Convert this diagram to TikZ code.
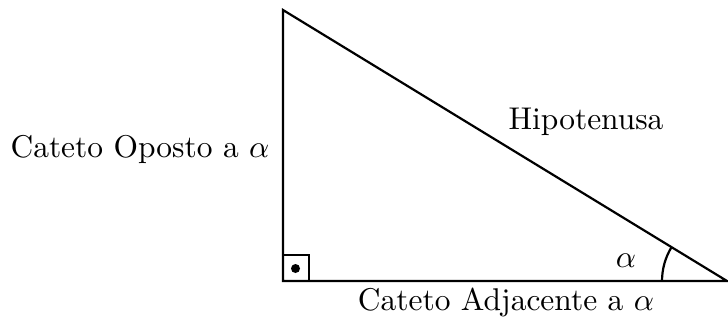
\documentclass[tikz,border=0pt]{standalone}
\begin{document}
\begin{tikzpicture}[x=0.318pt,y=-0.318pt,line width=0.7pt,
  lbl/.style={inner sep=0pt}]
\useasboundingbox (0,0) rectangle (728,322);
\coordinate (A) at (283,10);
\coordinate (B) at (283,281);
\coordinate (C) at (727,281);
\draw (A) -- (B) -- (C) -- cycle;
\draw (283,255) rectangle (309,281);
\fill (295.5,268.5) circle (4.5);
\draw (662,281) arc[start angle=180,end angle=211.4,radius=65];
\node[lbl] (opp) at (140,149) {Cateto Oposto a $\alpha$};
\node[lbl] (adj) at (506,302) {Cateto Adjacente a $\alpha$};
\node[lbl] (hyp) at (586,122) {Hipotenusa};
\node[lbl] (al) at (626,261) {$\alpha$};
\end{tikzpicture}
\end{document}
